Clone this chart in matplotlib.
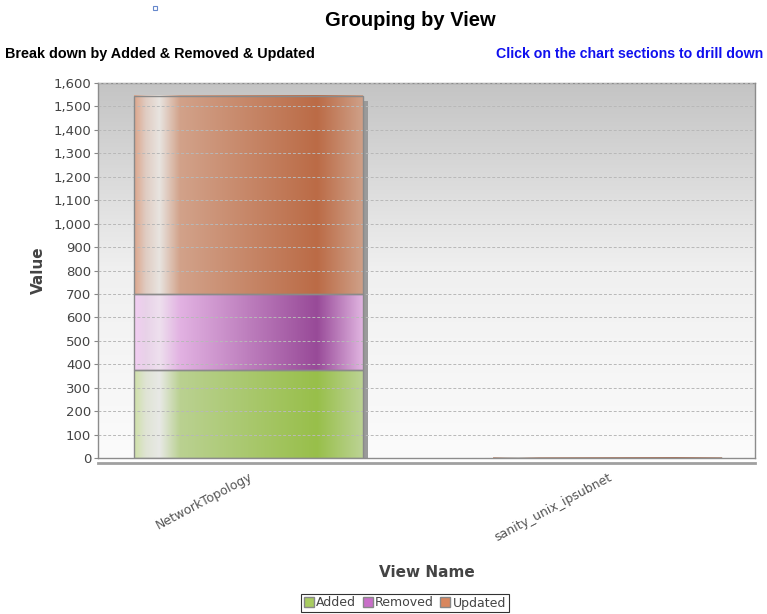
import numpy as np
import matplotlib
matplotlib.use('Agg')
import matplotlib.pyplot as plt
from matplotlib.colors import LinearSegmentedColormap
from matplotlib.patches import Rectangle
from matplotlib.lines import Line2D
from matplotlib.ticker import FuncFormatter, MultipleLocator

# data
views = ['NetworkTopology', 'sanity_unix_ipsubnet']
series = ['Added', 'Removed', 'Updated']
added = [377, 1]
removed = [322, 0]
updated = [846, 1]

# horizontal "glass" shading for each series
stops = [0.0, 0.05, 0.11, 0.2, 0.8, 1.0]
shade = {
    'Added':   ['#cfe0a8', '#dfe4d4', '#e8e9e6', '#bad191', '#98bf4a', '#bcd394'],
    'Removed': ['#f2cdf2', '#e8d2e8', '#eee0ee', '#e2b2e2', '#984a98', '#e0b4e0'],
    'Updated': ['#dca68c', '#e0ccc2', '#e8e4e0', '#d2a28a', '#bb6b46', '#cfa088'],
}
legend_col = {'Added': '#a8cc60', 'Removed': '#c86ec8', 'Updated': '#d8865e'}

fig = plt.figure(figsize=(7.67, 6.14), dpi=100)
ax = fig.add_axes([98/767, 156/614, 657/767, 375/614])

# plot background: gray to white vertical gradient
bg = np.linspace(0, 1, 256).reshape(-1, 1)
bg_cmap = LinearSegmentedColormap.from_list('bg', ['#fbfbfb', '#f0f0f0', '#c4c4c4'])
ax.imshow(bg, extent=[0, 1, 0, 1], transform=ax.transAxes, cmap=bg_cmap,
          aspect='auto', origin='lower', zorder=0)

x = np.arange(len(views))
width = 0.637
xlim = (-0.42, 1.41)
ylim = (0, 1600)
dx_sh = 5 / 358.0
dy_sh = 5 / 375.0 * 1600

grad = np.linspace(0, 1, 256).reshape(1, -1)
bottom = np.zeros(len(views))
totals = np.array(added) + np.array(removed) + np.array(updated)

# shadows
for i in range(len(views)):
    ax.add_patch(Rectangle((x[i] - width / 2 + dx_sh, bottom[i] - dy_sh), width, totals[i],
                           facecolor='#9a9a9a', edgecolor='none', zorder=1.5))

for name, vals in zip(series, [added, removed, updated]):
    cmap = LinearSegmentedColormap.from_list(name, list(zip(stops, shade[name])))
    for i in range(len(views)):
        if vals[i] <= 0:
            continue
        x0 = x[i] - width / 2
        ax.imshow(grad, extent=[x0, x0 + width, bottom[i], bottom[i] + vals[i]],
                  cmap=cmap, aspect='auto', zorder=2, interpolation='bilinear')
        ax.add_patch(Rectangle((x0, bottom[i]), width, vals[i], facecolor='none',
                               edgecolor='#8a8a8a', linewidth=1.0, zorder=3))
    bottom = bottom + np.array(vals)

ax.set_xlim(*xlim)
ax.set_ylim(*ylim)
ax.set_aspect('auto')

ax.yaxis.set_major_locator(MultipleLocator(100))
ax.yaxis.set_major_formatter(FuncFormatter(lambda v, p: '{:,.0f}'.format(v)))
ax.yaxis.grid(True, color='#b8b8b8', linestyle=(0, (3, 2)), linewidth=0.7)
ax.set_axisbelow(False)
for gl in ax.get_ygridlines():
    gl.set_zorder(1)

ax.set_xticks(x)
ax.set_xticklabels(views, rotation=28, ha='right', rotation_mode='anchor',
                   fontsize=9, color='#555555')
ax.tick_params(axis='x', length=0, pad=9)
ax.tick_params(axis='y', length=3, color='#888888', labelsize=9.5, labelcolor='#444444', pad=2)

for s in ax.spines.values():
    s.set_color('#8c8c8c')
    s.set_linewidth(1.0)

# floor line below the plot
ax.add_line(Line2D([0, 1], [-0.012, -0.012], transform=ax.transAxes, color='#a0a0a0',
                   linewidth=2, clip_on=False))

ax.set_ylabel('Value', fontsize=11, color='#444444', fontweight='bold', labelpad=5)
ax.set_xlabel('View Name', fontsize=11, color='#444444', fontweight='bold')
ax.xaxis.set_label_coords(0.5, -0.285)

fig.text(0.535, 0.967, 'Grouping by View', ha='center', va='center',
         fontsize=14.5, fontweight='bold', family='Liberation Sans')
fig.text(0.007, 0.912, 'Break down by Added & Removed & Updated', ha='left', va='center',
         fontsize=10.4, fontweight='bold', family='Liberation Sans')
fig.text(0.995, 0.912, 'Click on the chart sections to drill down', ha='right', va='center',
         fontsize=10.2, fontweight='bold', family='Liberation Sans', color='#1010ee')
fig.patches.append(Rectangle((153/767, 1 - 10/614), 4/767, 4/614, transform=fig.transFigure,
                             facecolor='white', edgecolor='#6688cc', linewidth=0.8))

handles = [Rectangle((0, 0), 1, 1, facecolor=legend_col[n], edgecolor='#888888') for n in series]
leg = fig.legend(handles, series, loc='center', bbox_to_anchor=(405/767, 1 - 603/614),
                 ncol=3, frameon=True, fontsize=9, handlelength=0.8, handleheight=0.8,
                 handletextpad=0.2, columnspacing=0.5, borderpad=0.2, fancybox=False,
                 borderaxespad=0)
leg.get_frame().set_edgecolor('black')
leg.get_frame().set_linewidth(0.8)
for t in leg.get_texts():
    t.set_color('#444444')

plt.savefig('out.png', dpi=100)
